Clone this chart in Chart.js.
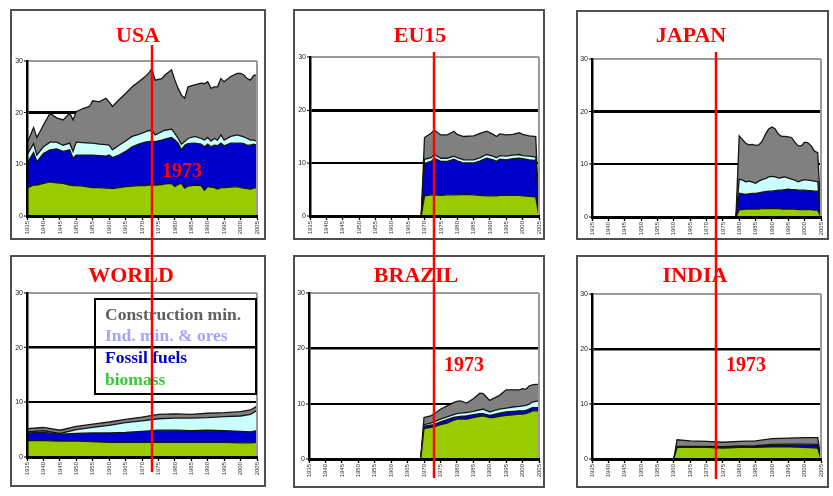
<!DOCTYPE html>
<html>
<head>
<meta charset="utf-8">
<script src="https://cdn.jsdelivr.net/npm/chart.js@4.4.1/dist/chart.umd.min.js"></script>
<style>
  html, body { margin: 0; padding: 0; background: #fff; }
  body { width: 833px; height: 496px; position: relative; overflow: hidden; }
  .frame { position: absolute; box-sizing: border-box; border: 2px solid #4f4f4f; }
  .panel { position: absolute; }
  .panel canvas { display: block; }
</style>
</head>
<body>
<div class="frame" style="left:10px;top:9px;width:256px;height:231px"></div>
<div class="frame" style="left:293px;top:9px;width:252px;height:231px"></div>
<div class="frame" style="left:576px;top:10px;width:253px;height:230px"></div>
<div class="frame" style="left:10px;top:255px;width:256px;height:232px"></div>
<div class="frame" style="left:293px;top:255px;width:252px;height:233px"></div>
<div class="frame" style="left:576px;top:255px;width:253px;height:233px"></div>

<div class="panel" style="left:0;top:0"><canvas id="usa" width="280" height="248"></canvas></div>
<div class="panel" style="left:280px;top:0"><canvas id="eu15" width="280" height="248"></canvas></div>
<div class="panel" style="left:560px;top:0"><canvas id="japan" width="273" height="248"></canvas></div>
<div class="panel" style="left:0;top:248px"><canvas id="world" width="280" height="248"></canvas></div>
<div class="panel" style="left:280px;top:248px"><canvas id="brazil" width="280" height="248"></canvas></div>
<div class="panel" style="left:560px;top:248px"><canvas id="india" width="273" height="248"></canvas></div>

<script>
// Material extraction per capita (t/cap/yr), four stacked material groups.
const tickYears = [1935, 1940, 1945, 1950, 1955, 1960, 1965, 1970, 1975, 1980, 1985, 1990, 1995, 2000, 2005];
const valueTicks = [0, 10, 20, 30];
const markYear = 1973;
const seriesNames = ['biomass', 'Fossil fuels', 'Ind. min. & ores', 'Construction min.'];

// USA
const usaYears = [1935,1937,1938,1940,1942,1944,1946,1948,1949,1950,1952,1954,1955,1957,1959,1960,1961,1963,1965,1967,1969,1971,1972,1973,1974,1976,1977,1979,1980,1981,1982,1983,1984,1986,1988,1989,1990,1991,1992,1993,1994,1995,1997,1999,2000,2001,2002,2003,2004,2005];
const usaBiomass = [5.4,6.0,6.0,6.3,6.6,6.4,6.3,6.0,5.9,5.9,5.8,5.6,5.5,5.5,5.4,5.4,5.3,5.5,5.7,5.8,5.9,5.9,6.0,6.0,6.0,6.1,6.2,6.3,5.7,6.1,6.3,5.4,5.8,6.0,5.9,5.0,5.7,5.6,5.5,5.2,5.5,5.5,5.6,5.7,5.5,5.4,5.3,5.2,5.4,5.5];
const usaFossil = [4.8,6.3,4.5,5.8,6.2,6.6,6.2,6.8,5.3,5.9,6.0,6.2,6.3,6.2,6.2,6.4,6.0,6.3,6.8,7.6,8.0,8.4,8.4,8.5,8.4,8.6,8.7,8.9,9.0,8.0,6.5,8.3,8.2,8.1,8.0,8.4,8.2,7.8,8.2,8.4,8.6,8.1,8.5,8.4,8.6,8.6,8.4,8.5,8.5,8.2];
const usaIndMin = [1.6,1.7,1.3,1.3,1.5,1.3,1.2,1.3,1.3,2.5,2.4,2.3,2.3,2.2,2.2,1.9,1.5,1.9,2.0,2.0,1.9,2.0,2.1,2.1,1.3,1.6,1.7,1.6,1.3,0.9,1.1,0.7,1.0,1.3,1.1,1.3,1.3,1.1,1.3,1.1,1.6,1.1,1.3,1.6,1.4,1.3,1.3,1.0,0.8,0.8];
const usaConstruction = [2.3,3.1,3.4,4.2,5.6,4.7,4.9,5.8,6.1,5.9,6.6,7.1,8.2,8.2,9.0,8.4,8.4,8.8,9.2,9.6,10.2,10.7,11.1,11.9,10.6,10.3,10.7,11.5,10.3,9.7,9.5,8.4,10.0,10.0,10.7,10.9,10.8,10.2,10.0,10.3,10.9,11.3,11.6,11.9,12.1,12.0,11.6,11.6,12.5,12.8];

// EU15
const euYears = [1969,1970,1972,1973,1975,1977,1979,1980,1982,1985,1987,1989,1991,1992,1993,1995,1997,1999,2000,2002,2004,2005];
const euBiomass = [0,3.8,4.0,4.0,3.9,4.0,4.0,4.0,4.1,4.0,3.9,3.8,3.8,3.8,3.9,3.9,3.9,3.9,3.8,3.7,3.6,0];
const euFossil = [0,6.1,6.3,6.9,6.4,6.3,6.7,6.4,5.9,6.0,6.5,7.1,6.8,6.5,6.8,6.7,6.9,7.0,7.0,6.9,6.9,0];
const euIndMin = [0,0.8,0.7,0.7,0.6,0.6,0.6,0.6,0.6,0.6,0.6,0.7,0.7,0.7,0.7,0.7,0.7,0.7,0.6,0.7,0.6,0];
const euConstruction = [0,4.1,4.6,4.6,4.4,4.4,4.7,4.4,4.4,4.5,4.6,4.4,4.1,4.0,4.1,4.0,3.9,4.1,4.0,3.8,3.9,0];

// JAPAN
const japanYears = [1979,1980,1981,1982,1983,1984,1985,1986,1987,1988,1989,1990,1991,1992,1993,1994,1995,1996,1997,1998,1999,2000,2001,2002,2003,2004,2005];
const japanBiomass = [0,1.4,1.4,1.5,1.5,1.5,1.5,1.5,1.6,1.6,1.6,1.6,1.6,1.6,1.5,1.5,1.5,1.5,1.5,1.4,1.4,1.4,1.4,1.4,1.3,1.3,0];
const japanFossil = [0,3.1,3.0,2.8,2.9,3.0,3.0,3.1,3.1,3.2,3.3,3.3,3.4,3.5,3.6,3.7,3.8,3.7,3.7,3.7,3.7,3.7,3.6,3.6,3.6,3.6,0];
const japanIndMin = [0,2.7,2.6,2.4,2.4,2.1,1.9,2.2,2.4,2.5,2.7,2.8,2.6,2.3,2.4,2.4,2.1,2.0,1.8,1.6,1.8,2.0,2.0,1.9,1.9,1.8,0];
const japanConstruction = [0,8.2,7.7,7.3,6.9,7.2,7.2,6.9,7.3,8.4,9.1,9.4,9.1,8.3,7.8,7.7,7.8,7.9,7.2,6.8,6.6,7.1,7.1,6.6,5.7,5.5,0];

// WORLD
const worldYears = [1935,1940,1945,1950,1955,1960,1965,1970,1975,1980,1985,1990,1995,2000,2003,2005];
const worldBiomass = [3.0,3.0,2.9,2.9,2.8,2.7,2.7,2.7,2.7,2.7,2.7,2.7,2.7,2.6,2.6,2.7];
const worldFossil = [1.4,1.5,1.3,1.4,1.6,1.7,1.8,2.0,2.2,2.2,2.1,2.2,2.1,2.1,2.0,2.1];
const worldIndMin = [0.2,0.3,0.1,0.7,1.0,1.4,1.8,1.9,2.1,2.2,2.3,2.3,2.6,2.8,3.2,3.7];
const worldConstruction = [0.6,0.6,0.6,0.6,0.6,0.6,0.6,0.7,0.8,0.8,0.7,0.8,0.7,0.8,0.8,0.8];

// BRAZIL
const brazilYears = [1969,1970,1972,1973,1975,1977,1979,1980,1981,1983,1985,1987,1988,1990,1991,1993,1995,1997,1999,2000,2001,2002,2003,2004,2005];
const brazilBiomass = [0,5.5,5.7,5.8,6.2,6.5,7.0,7.2,7.2,7.2,7.5,7.7,7.8,7.5,7.5,7.7,7.9,8.0,8.1,8.1,8.2,8.4,8.7,8.7,8.7];
const brazilFossil = [0,0.4,0.4,0.4,0.5,0.6,0.5,0.4,0.5,0.6,0.5,0.5,0.4,0.4,0.5,0.6,0.6,0.6,0.6,0.6,0.6,0.6,0.6,0.6,0.6];
const brazilIndMin = [0,0.3,0.4,0.5,0.5,0.5,0.5,0.6,0.6,0.6,0.6,0.7,0.8,0.6,0.7,0.7,0.7,0.8,0.8,0.9,0.9,0.9,1.0,1.1,1.2];
const brazilConstruction = [0,1.3,1.3,1.4,1.8,2.0,2.2,2.2,2.2,1.7,2.3,3.0,2.8,2.1,2.2,2.5,3.3,3.1,3.0,3.1,2.9,3.3,3.1,3.1,3.0];

// INDIA
const indiaYears = [1960,1961,1965,1970,1975,1980,1985,1990,1995,2000,2004,2005];
const indiaBiomass = [0,2.1,2.1,2.1,2.0,2.1,2.1,2.2,2.2,2.1,2.0,0];
const indiaFossil = [0,0.1,0.1,0.1,0.15,0.2,0.25,0.3,0.35,0.4,0.45,0];
const indiaIndMin = [0,0.1,0.1,0.1,0.1,0.1,0.1,0.15,0.15,0.2,0.2,0];
const indiaConstruction = [0,1.2,1.0,0.9,0.8,0.8,0.85,1.05,1.1,1.2,1.25,0];

// Styling
const fillColors = ['#99cc00', '#0000cc', '#ccffff', '#808080'];
const legendTextColors = ['#33cc33', '#0000cc', '#a4a4ff', '#5f5f5f'];

Chart.defaults.font.family = '"Liberation Sans", Arial, sans-serif';

const panelDecor = {
  id: 'panelDecor',
  afterDatasetsDraw(chart) {
    const { ctx, chartArea: a } = chart;
    ctx.save();
    ctx.strokeStyle = '#9a9a9a';
    ctx.lineWidth = 2;
    ctx.beginPath();
    ctx.moveTo(a.right, a.top);
    ctx.lineTo(a.right, a.bottom);
    ctx.stroke();
    ctx.restore();
  },
  afterDraw(chart, args, o) {
    const { ctx } = chart;
    const markX = Math.round(chart.scales.x.getPixelForValue(markYear));
    ctx.save();

    // panel title
    ctx.font = 'bold 22px "Liberation Serif", "Times New Roman", serif';
    ctx.fillStyle = '#ff0000';
    ctx.textAlign = 'center';
    ctx.textBaseline = 'middle';
    ctx.fillText(o.title, o.titleX, o.titleY);

    // legend box (no fill, grid shows through)
    if (o.legend) {
      const b = o.legend;
      ctx.strokeStyle = '#000';
      ctx.lineWidth = 2;
      ctx.strokeRect(b.x, b.y, b.w, b.h);
      ctx.font = 'bold 17.5px "Liberation Serif", "Times New Roman", serif';
      ctx.textAlign = 'left';
      ctx.textBaseline = 'middle';
      for (let k = 0; k < seriesNames.length; k++) {
        const idx = seriesNames.length - 1 - k;
        ctx.fillStyle = legendTextColors[idx];
        ctx.fillText(seriesNames[idx], b.x + 10, b.firstY + k * b.step);
      }
    }

    // reference year marker
    ctx.strokeStyle = '#ff0000';
    ctx.lineWidth = 2.5;
    ctx.beginPath();
    ctx.moveTo(markX, o.lineTop);
    ctx.lineTo(markX, o.lineBottom);
    ctx.stroke();

    if (o.markLabelY != null) {
      ctx.font = 'bold 20px "Liberation Serif", "Times New Roman", serif';
      ctx.fillStyle = '#ff0000';
      ctx.textAlign = 'left';
      ctx.textBaseline = 'middle';
      ctx.fillText(String(markYear), markX + 10, o.markLabelY);
    }
    ctx.restore();
  }
};

function makePanel(canvasId, years, layers, pad, decor, grid20Width) {
  const datasets = layers.map((vals, i) => ({
    label: seriesNames[i],
    data: years.map((yr, k) => ({ x: yr, y: vals[k] })),
    backgroundColor: fillColors[i],
    borderColor: '#151515',
    borderWidth: 1.3,
    fill: i === 0 ? 'origin' : '-1',
    pointRadius: 0,
    tension: 0
  }));

  return new Chart(document.getElementById(canvasId), {
    type: 'line',
    data: { datasets },
    plugins: [panelDecor],
    options: {
      responsive: false,
      animation: false,
      events: [],
      layout: { padding: pad },
      plugins: {
        legend: { display: false },
        tooltip: { enabled: false },
        title: { display: false },
        panelDecor: decor
      },
      scales: {
        x: {
          type: 'linear',
          min: tickYears[0],
          max: tickYears[tickYears.length - 1],
          afterBuildTicks: s => { s.ticks = tickYears.map(v => ({ value: v })); },
          afterFit: s => { s.height = 22; },
          grid: { drawOnChartArea: false, drawTicks: true, tickLength: 4, tickColor: '#000', tickWidth: 1.3 },
          border: { display: true, color: '#000', width: 3, z: 1 },
          ticks: {
            autoSkip: false, minRotation: 90, maxRotation: 90, padding: 1,
            font: { size: 6 }, color: '#333',
            callback: v => String(v)
          }
        },
        y: {
          stacked: true,
          min: valueTicks[0],
          max: valueTicks[valueTicks.length - 1],
          afterBuildTicks: s => { s.ticks = valueTicks.map(v => ({ value: v })); },
          afterFit: s => { s.width = 16; },
          grid: {
            color: c => (c.tick && c.tick.value === 30) ? '#9a9a9a' : '#000',
            lineWidth: c => (c.tick && c.tick.value === 20) ? grid20Width : 2,
            drawTicks: true, tickLength: 3, tickColor: '#000', tickWidth: 1
          },
          border: { display: true, color: '#000', width: 2.5, z: 1 },
          ticks: { padding: 1, font: { size: 7 }, color: '#222' }
        }
      }
    }
  });
}

makePanel('usa', usaYears, [usaBiomass, usaFossil, usaIndMin, usaConstruction],
  { left: 11, right: 23, top: 61, bottom: 10 },
  { title: 'USA', titleX: 138, titleY: 36, lineTop: 45, lineBottom: 248, markLabelY: 172 }, 3);

makePanel('eu15', euYears, [euBiomass, euFossil, euIndMin, euConstruction],
  { left: 14, right: 21, top: 57, bottom: 10 },
  { title: 'EU15', titleX: 140, titleY: 36, lineTop: 52, lineBottom: 248 }, 3);

makePanel('japan', japanYears, [japanBiomass, japanFossil, japanIndMin, japanConstruction],
  { left: 16, right: 12, top: 59, bottom: 9 },
  { title: 'JAPAN', titleX: 131, titleY: 36, lineTop: 52, lineBottom: 248 }, 3);

makePanel('world', worldYears, [worldBiomass, worldFossil, worldIndMin, worldConstruction],
  { left: 11, right: 23, top: 45, bottom: 17 },
  { title: 'WORLD', titleX: 131, titleY: 28, lineTop: 0, lineBottom: 224,
    legend: { x: 95, y: 51, w: 161, h: 95, firstY: 67, step: 21.7 } }, 2.5);

makePanel('brazil', brazilYears, [brazilBiomass, brazilFossil, brazilIndMin, brazilConstruction],
  { left: 13, right: 21, top: 45, bottom: 15 },
  { title: 'BRAZIL', titleX: 136, titleY: 28, lineTop: 0, lineBottom: 230, markLabelY: 118 }, 2.5);

makePanel('india', indiaYears, [indiaBiomass, indiaFossil, indiaIndMin, indiaConstruction],
  { left: 16, right: 12, top: 46, bottom: 15 },
  { title: 'INDIA', titleX: 135, titleY: 28, lineTop: 0, lineBottom: 231, markLabelY: 118 }, 2.5);
</script>
</body>
</html>
